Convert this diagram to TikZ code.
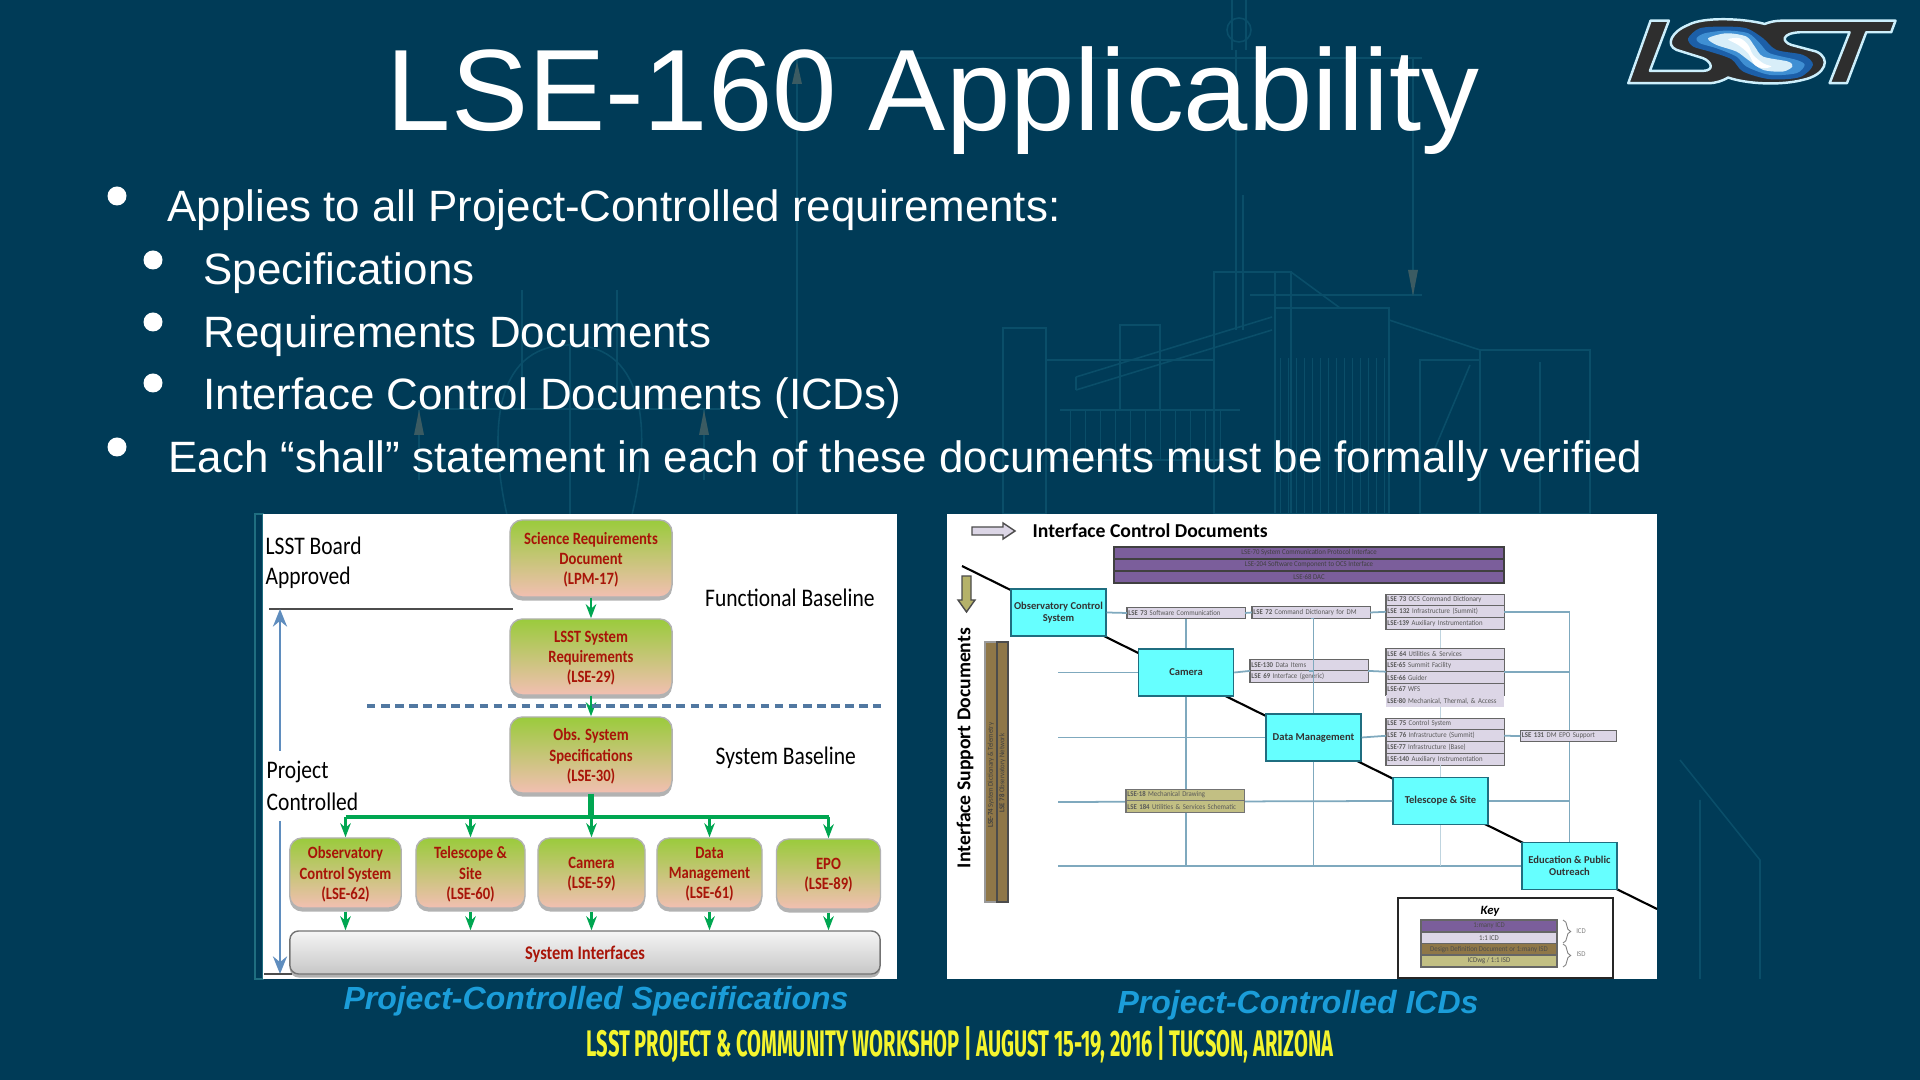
\documentclass[tikz,border=0pt]{standalone}
\usepackage{fontspec}
\setmainfont{Liberation Sans}
\newfontfamily\panelfont[FakeStretch=0.85]{Carlito}
\newfontfamily\rightfont{Carlito}
\newfontfamily\rowfont[FakeStretch=0.92]{Carlito}
\newfontfamily\footfont[FakeStretch=0.545]{Fira Sans}
\usetikzlibrary{positioning, calc, arrows.meta, shadows, decorations.pathreplacing}

\definecolor{slidebg}{HTML}{003B57}
\definecolor{faintline}{HTML}{0A4E69}
\definecolor{faintarrow}{HTML}{3B5B62}
\definecolor{flowgreen}{HTML}{00A651}
\definecolor{boxtop}{HTML}{9ACB3C}
\definecolor{boxbottom}{HTML}{F2BFB2}
\definecolor{boxtext}{HTML}{A81408}
\definecolor{rulblue}{HTML}{5F8DBE}
\definecolor{capblue}{HTML}{1B9DD9}
\definecolor{footyellow}{HTML}{F4F52E}
\definecolor{icdcyan}{HTML}{66FFFF}
\definecolor{icdedge}{HTML}{1F6E80}
\definecolor{buscolor}{HTML}{7FA9BE}
\definecolor{icdlilac}{HTML}{DCD6E6}
\definecolor{icdpurple}{HTML}{7B5E9B}
\definecolor{icdbrown}{HTML}{8F7748}
\definecolor{icdkhaki}{HTML}{C2BF83}
\definecolor{logodark}{HTML}{1C5FA8}
\definecolor{logomid}{HTML}{3F8FD3}
\definecolor{logopale}{HTML}{D8EEF9}

\tikzset{
    bodytext/.style={anchor=base west, inner sep=0, text=white, font=\fontsize{12.48}{14}\selectfont},
    paneltext/.style={anchor=west, inner sep=0, text=black, font=\panelfont\fontsize{7.2}{8}\selectfont},
    specbox/.style={draw=black!30, rounded corners=3.5pt, top color=boxtop, bottom color=boxbottom,
        drop shadow={shadow xshift=0pt, shadow yshift=-1pt, fill=black, opacity=.3},
        align=center, inner sep=0, text=boxtext, text depth=0pt,
        font=\panelfont\bfseries\fontsize{4.9}{5.7}\selectfont},
    flowarrow/.style={thick, flowgreen, -{Stealth[length=4pt, width=3pt]}},
    icdbox/.style={draw=icdedge, fill=icdcyan, align=center, inner sep=0, minimum height=.47cm,
        minimum width=.95cm, font=\rightfont\bfseries\fontsize{3}{3.6}\selectfont, text=black!80},
    icdrow/.style={draw=black!60, line width=.3pt, fill=icdlilac, inner sep=0, inner xsep=.015cm, outer sep=0,
        text width=1.15cm, align=left, minimum height=.118cm, text=black!65,
        font=\rowfont\fontsize{2.1}{2.4}\selectfont},
    bus/.style={buscolor, line width=.5pt},
    faint/.style={faintline, line width=.45pt},
    keyrow/.style={draw=black!60, inner sep=0, outer sep=0, minimum width=1.36cm, minimum height=.1167cm,
        align=center, text=black!70, font=\rowfont\fontsize{2.1}{2.4}\selectfont},
}

\begin{document}
\begin{tikzpicture}[x=0.01cm, y=-0.01cm]

    \useasboundingbox (0,0) rectangle (1920,1080);
    \fill[slidebg] (0,0) rectangle (1920,1080);

    % Faint blueprint behind the text
    \draw[faint] (797,58) -- (797,514) (797,58) -- (1422,58);
    \draw[faint] (1413,58) -- (1413,295) (1250,295) -- (1422,295);
    \draw[faint] (522,290) -- (522,400) (617,290) -- (617,400);
    \draw[faint] (507,515) .. controls (490,440) and (490,345) .. (570,345) .. controls (650,345) and (650,440) .. (632,515);
    \draw[faint] (570,345) -- (570,515) (420,409) -- (720,409);
    \draw[faint] (419,410) -- (419,480) (704,410) -- (704,480);
    \fill[faintarrow] (797,62) -- (792,84) -- (802,84) -- cycle;
    \fill[faintarrow] (1413,296) -- (1408,270) -- (1418,270) -- cycle;
    \fill[faintarrow] (419,410) -- (414,435) -- (424,435) -- cycle;
    \fill[faintarrow] (704,410) -- (699,435) -- (709,435) -- cycle;
    \draw[faint] (1232,0) -- (1232,50) (1246,0) -- (1246,50);
    \draw[faint] (1239,30) circle[radius=12];
    \draw[faint] (1236,50) -- (1236,330) (1243,195) -- (1243,330);
    \draw[faint] (1214,272) rectangle (1291,514);
    \draw[faint] (1275,272) -- (1275,514) (1291,272) -- (1340,308);
    \draw[faint] (1275,308) rectangle (1389,514);
    \draw[faint] (1389,320) -- (1480,350) -- (1480,514);
    \draw[faint] (1480,350) rectangle (1590,514) (1540,362) -- (1540,514);
    \draw[faint] (1076,377) -- (1272,317) (1076,390) -- (1272,330) (1076,377) -- (1076,390);
    \draw[faint] (1003,328) rectangle (1046,514) (1046,360) -- (1214,360);
    \draw[faint] (1120,325) rectangle (1160,410) (1060,410) -- (1240,410) (1060,460) -- (1240,460);
    \draw[faint] (1420,360) rectangle (1480,514) (1430,460) -- (1470,365);
    \foreach \hx in {1280,1288,...,1384} {
        \draw[faintline, line width=.25pt] (\hx,358) -- (\hx,514);
    }
    \foreach \hx in {1070,1085,...,1230} {
        \draw[faintline, line width=.25pt] (\hx,410) -- (\hx,460);
    }
    \draw[faint] (1680,760) -- (1760,860) -- (1760,979) (1700,800) -- (1700,979);

    % Title and bullets
    \node[bodytext, font=\fontsize{32.9}{36}\selectfont] (title) at (386,131) {LSE-160 Applicability};
    \node[bodytext] (itemA) at (167,222) {Applies to all Project-Controlled requirements:};
    \node[bodytext] (itemB) at (203,285) {Specifications};
    \node[bodytext] (itemC) at (203,348) {Requirements Documents};
    \node[bodytext] (itemD) at (203,410) {Interface Control Documents (ICDs)};
    \node[bodytext] (itemE) at (168,473) {Each “shall” statement in each of these documents must be formally verified};
    \fill[white] (117,196) circle[radius=9.5] (117,447) circle[radius=9.5];
    \foreach \by in {260,322,383} {
        \fill[white] (153,\by) circle[radius=9.5];
    }

    % Logo
    \begin{scope}[shift={(1600,0)}, x=0.00333cm, y=-0.00333cm]
        \fill[fill=black!82, draw=white!80!cyan, line width=.7pt, line join=round]
            (152,62) -- (207,62) -- (150,213) -- (310,213) .. controls (345,212) and (335,185) .. (310,175)
            -- (230,150) .. controls (195,135) and (215,95) .. (265,75)
            .. controls (310,50) and (430,55) .. (495,72) .. controls (520,62) and (540,62) .. (560,62)
            -- (888,62) -- (875,97) -- (800,97) -- (742,250) -- (690,250) -- (750,97) -- (600,97)
            .. controls (545,100) and (545,125) .. (575,135) -- (650,155)
            .. controls (695,175) and (680,225) .. (610,240) .. controls (540,258) and (440,252) .. (385,233)
            .. controls (370,242) and (350,250) .. (325,250) -- (85,250) -- cycle;
        \fill[logodark] plot[smooth cycle] coordinates {(265,115) (300,85) (370,80) (440,85) (490,115) (530,150) (610,165) (640,195) (600,232) (510,238) (430,215) (395,178) (330,155) (280,140)};
        \fill[logomid] plot[smooth cycle] coordinates {(290,115) (315,100) (380,92) (445,100) (480,130) (510,160) (590,180) (615,195) (590,220) (510,225) (440,200) (410,170) (350,145) (300,130)};
        \fill[logopale] plot[smooth cycle] coordinates {(325,115) (380,100) (440,110) (465,140) (490,170) (565,185) (578,200) (550,215) (490,210) (445,180) (410,155) (350,135)};
        \fill[white] plot[smooth cycle] coordinates {(385,118) (420,115) (445,135) (460,165) (490,190) (515,200) (490,205) (465,195) (445,160) (415,135)};
    \end{scope}

    % Left panel
    \draw[icdedge] (255,514) rectangle (263,979);
    \fill[white] (263,514) rectangle (897,979);

    \node[specbox, minimum width=1.62cm, minimum height=.77cm] (srd) at (591,558.5) {Science Requirements\\Document\\(LPM-17)};
    \node[specbox, minimum width=1.62cm, minimum height=.76cm] (lsr) at (591,657) {LSST System\\Requirements\\(LSE-29)};
    \node[specbox, minimum width=1.62cm, minimum height=.76cm] (oss) at (591,755) {Obs. System\\Specifications\\(LSE-30)};
    \node[specbox, minimum width=1.115cm, minimum height=.7cm] (ocsS) at (345.5,873) {Observatory\\Control System\\(LSE-62)};
    \node[specbox, minimum width=1.09cm, minimum height=.7cm] (telS) at (470.5,873) {Telescope \&\\Site\\(LSE-60)};
    \node[specbox, minimum width=1.07cm, minimum height=.7cm] (camS) at (591.5,873) {Camera\\(LSE-59)};
    \node[specbox, minimum width=1.05cm, minimum height=.7cm] (dmS) at (709.5,873) {Data\\Management\\(LSE-61)};
    \node[specbox, minimum width=1.04cm, minimum height=.7cm] (epoS) at (828.5,874) {EPO\\(LSE-89)};
    \node[specbox, draw=black!55, top color=black!4, bottom color=black!22, minimum width=5.9cm, minimum height=.43cm,
        rounded corners=2.5pt, font=\panelfont\bfseries\fontsize{5.5}{6.5}\selectfont] (ifaces) at (585,952.5) {System Interfaces};

    % Green arrows
    \draw[flowarrow] (srd) -- (lsr);
    \draw[flowarrow] (lsr) -- (oss);
    \coordinate (busC) at (591,817);
    \draw[flowgreen, line width=1.5pt] (oss) -- (busC);
    \draw[flowgreen, line width=1.2pt] (busC -| ocsS) -- (busC -| epoS);
    \foreach \n in {ocsS, telS, camS, dmS, epoS} {
        \draw[flowarrow] (busC -| \n) -- (\n);
        \draw[flowarrow] ($(\n.south)+(0,3)$) -- (\n.south |- ifaces.north);
    }

    % Baseline marks
    \coordinate (dashL) at (367,706);
    \coordinate (dashR) at (881,706);
    \draw[rulblue!85!black, line width=.9pt, dash pattern=on 2.4pt off 1.6pt] (dashL) -- (dashR);
    \coordinate (boardL) at (269,609);
    \coordinate (boardR) at (513,609);
    \draw[black!70, line width=.3pt] (boardL) -- (boardR);
    \coordinate (ctrlT) at (280,609);
    \coordinate (ctrlU) at (280,751);
    \coordinate (ctrlD) at (280,821);
    \coordinate (ctrlB) at (280,974);
    \draw[rulblue, line width=.7pt, -{Stealth[length=5pt, width=4pt]}] (ctrlU) -- (ctrlT);
    \draw[rulblue, line width=.7pt, -{Stealth[length=5pt, width=4pt]}] (ctrlD) -- (ctrlB);
    \draw[black!70, line width=.3pt] (264,974) -- (292,974);

    \node[paneltext] (lblBoard) at (265,546) {LSST Board};
    \node[paneltext] (lblAppr) at (265,578) {Approved};
    \node[paneltext] (lblProj) at (266,772) {Project};
    \node[paneltext] (lblCtrl) at (266,802) {Controlled};
    \node[paneltext] (lblFunc) at (704.5,598) {Functional Baseline};
    \node[paneltext] (lblSys) at (715,758) {System Baseline};

    % Right panel
    \fill[white] (947,514) rectangle (1657,979);

    \fill[icdlilac, draw=black!70, line width=.4pt] (972,527) -- (1003,527) -- (1003,523) -- (1015,531) -- (1003,539) -- (1003,535) -- (972,535) -- cycle;
    \node[anchor=west, inner sep=0, font=\rightfont\bfseries\fontsize{5.6}{6.5}\selectfont] (icdTitle) at (1032,531) {Interface Control Documents};
    \fill[icdkhaki!80!olive, draw=black!70, line width=.4pt] (962,576) -- (971,576) -- (971,600) -- (975,600) -- (966.5,612) -- (958,600) -- (962,600) -- cycle;
    \node[rotate=90, inner sep=0, font=\rightfont\bfseries\fontsize{5.6}{6.5}\selectfont] (istTitle) at (965,748) {Interface Support Documents};

    % Main diagonal
    \coordinate (diagA) at (962,566);
    \coordinate (diagB) at (1657,909);
    \draw[black, line width=.6pt] (diagA) -- (diagB);

    % Subsystems
    \node[icdbox] (ocs) at (1058.5,612.5) {Observatory Control\\System};
    \node[icdbox] (cam) at (1186,672.5) {Camera};
    \node[icdbox] (dm) at (1313.5,737.5) {Data Management};
    \node[icdbox] (tel) at (1440.5,801) {Telescope \& Site};
    \node[icdbox] (epo) at (1569.5,866) {Education \& Public\\Outreach};

    % Purple ICDs
    \foreach \pname/\py/\ptext in {pa/553/{LSE-70 System Communication Protocol Interface},
        pb/565/{LSE-204 Software Component to OCS Interface}, pc/577/{LSE-68 DAC}} {
        \node[keyrow, fill=icdpurple, draw=black!75, minimum width=3.9cm, minimum height=.12cm, text=black!75] (\pname) at (1309,\py) {\ptext};
    }

    % Lilac ICDs
    \node[icdrow] (icdA) at (1186,613) {\textbf{LSE 73} Software Communication};
    \node[icdrow] (icdB) at (1311,612.5) {\textbf{LSE 72} Command Dictionary for DM};

    \node[icdrow] (ocsA) at (1445,600) {\textbf{LSE 73} OCS Command Dictionary};
    \node[icdrow, below=0pt of ocsA] (ocsB) {\textbf{LSE 132} Infrastructure (Summit)};
    \node[icdrow, below=0pt of ocsB] (ocsC) {\textbf{LSE-139} Auxiliary Instrumentation};

    \node[icdrow] (camA) at (1309,665) {\textbf{LSE-130} Data Items};
    \node[icdrow, below=0pt of camA] (camB) {\textbf{LSE 69} Interface (generic)};

    \node[icdrow] (tcaA) at (1445,654) {\textbf{LSE 64} Utilities \& Services};
    \node[icdrow, below=0pt of tcaA] (tcaB) {\textbf{LSE-65} Summit Facility};
    \node[icdrow, below=0pt of tcaB] (tcaC) {\textbf{LSE-66} Guider};
    \node[icdrow, below=0pt of tcaC] (tcaD) {\textbf{LSE-67} WFS};
    \node[icdrow, below=0pt of tcaD, draw=none] (tcaE) {\textbf{LSE-80} Mechanical, Thermal, \& Access};

    \node[icdrow] (tscA) at (1445,724) {\textbf{LSE 75} Control System};
    \node[icdrow, below=0pt of tscA] (tscB) {\textbf{LSE 76} Infrastructure (Summit)};
    \node[icdrow, below=0pt of tscB] (tscC) {\textbf{LSE-77} Infrastructure (Base)};
    \node[icdrow, below=0pt of tscC] (tscD) {\textbf{LSE-140} Auxiliary Instrumentation};

    % Blue lines
    \coordinate (camW) at (1058,672.5);
    \coordinate (dmW) at (1058,737.5);
    \coordinate (telW) at (1058,802);
    \coordinate (botW) at (1058,866);
    \draw[bus] (ocsB.east) -| (epo.north);
    \draw[bus] (tcaB.south east) -- (tcaB.south east -| epo.north);
    \draw[bus] (tel.east) -- (tel.east -| epo.north);
    \draw[bus] (ocs.east) -- (icdA.west);
    \draw[bus] (icdA.east) -- (icdB.west);
    \draw[bus] (icdB.east) -- (ocsB.west);
    \draw[bus] (icdA.south) -- (cam.north);
    \draw[bus] (camW) -- (cam.west);
    \draw[bus] (cam.east) -- (camA.south west);
    \draw[bus] (camA.south east) -- (tcaB.south west);
    \draw[bus] (icdB.south) -- (icdB.south -| dm.north) -- (dm.north);
    \draw[bus] (camA.south) -- (camA.south -| dm.north);
    \draw[bus] (dmW) -- (dm.west);
    \draw[bus] (dm.east) -- (tscB.west);
    \draw[bus] (telW) -- (tel.west);
    \draw[bus] (botW) -- (epo.west);
    \draw[bus] (cam.south) -- (cam.south |- botW);
    \draw[bus] (dm.south) -- (dm.south |- botW);
    \draw[bus, buscolor!50] (tel.south) -- (tel.south |- botW);
    \draw[bus, buscolor!50] (tel.north |- ocsC.south) -- (tel.north |- tcaA.north);
    \draw[bus, buscolor!50] (tel.north |- tcaE.south) -- (tel.north |- tscA.north);
    \draw[bus, buscolor!50] (tel.north |- tscD.south) -- (tel.north);

    \node[icdrow, text width=.93cm] (dmEpo) at (1568.5,736) {\textbf{LSE 131} DM EPO Support};
    \draw[bus] (tscB.east) -- (dmEpo.west);

    % Khaki ISDs
    \node[icdrow, fill=icdkhaki, draw=black!55] (isdA) at (1185,795) {\textbf{LSE-18} Mechanical Drawing};
    \node[icdrow, fill=icdkhaki, draw=black!55, below=0pt of isdA] (isdB) {\textbf{LSE 184} Utilities \& Services Schematic};

    % Brown ISDs
    \node[draw=black!40, fill=icdbrown, inner sep=0, minimum width=.12cm, minimum height=2.6cm] (brnA) at (991,772) {};
    \node[draw=black!70, fill=icdbrown, inner sep=0, minimum width=.11cm, minimum height=2.6cm] (brnB) at (1002.5,772) {};
    \node[rotate=90, anchor=west, inner sep=0, text=black!75, font=\rowfont\fontsize{2.1}{2.4}\selectfont] (brnAt) at (991,828) {\textbf{LSE-74} System Dictionary \& Telemetry};
    \node[rotate=90, anchor=west, inner sep=0, text=black!75, font=\rowfont\fontsize{2.1}{2.4}\selectfont] (brnBt) at (1002.5,813) {\textbf{LSE 78} Observatory Network};

    % Key
    \node[draw=black!85, fill=white, line width=.8pt, minimum width=2.15cm, minimum height=.8cm, inner sep=0] (keybox) at (1505.5,938) {};
    \node[inner sep=0, font=\rightfont\bfseries\itshape\fontsize{3.6}{4}\selectfont] (keyTitle) at (1490,911) {Key};
    \node[keyrow, fill=icdpurple] (keyA) at (1489,926) {1:many ICD};
    \node[keyrow, fill=icdlilac, below=0pt of keyA] (keyB) {1:1 ICD};
    \node[keyrow, fill=icdbrown, below=0pt of keyB] (keyC) {Design Definition Document or 1:many ISD};
    \node[keyrow, fill=icdkhaki, below=0pt of keyC] (keyD) {ICDwg / 1:1 ISD};
    \draw[black!50, line width=.25pt, decorate, decoration={brace, amplitude=2.2pt}] (1563,920) -- (1563,943);
    \draw[black!50, line width=.25pt, decorate, decoration={brace, amplitude=2.2pt}] (1563,944) -- (1563,967);
    \node[inner sep=0, text=black!50, font=\rowfont\fontsize{2.1}{2.4}\selectfont] (keyIcd) at (1581,931) {ICD};
    \node[inner sep=0, text=black!50, font=\rowfont\fontsize{2.1}{2.4}\selectfont] (keyIsd) at (1581,954) {ISD};

    % Captions and footer
    \node[inner sep=0, text=capblue, font=\bfseries\itshape\fontsize{9.1}{11}\selectfont] (capL) at (596,1001.5) {Project-Controlled Specifications};
    \node[inner sep=0, text=capblue, font=\bfseries\itshape\fontsize{9.1}{11}\selectfont] (capR) at (1298,1005.5) {Project-Controlled ICDs};
    \node[inner sep=0, text=footyellow, font=\footfont\bfseries\fontsize{10.5}{12}\selectfont] (footer) at (960,1045) {LSST PROJECT \& COMMUNITY WORKSHOP \textbar{} AUGUST 15-19, 2016 \textbar{} TUCSON, ARIZONA};

\end{tikzpicture}
\end{document}
